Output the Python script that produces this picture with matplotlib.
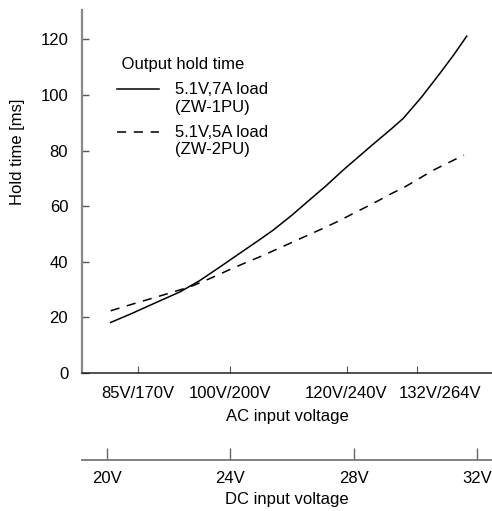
import matplotlib
matplotlib.use('Agg')
import matplotlib.pyplot as plt
import matplotlib.transforms as mtransforms
from matplotlib.legend_handler import HandlerLine2D

plt.rcParams['font.family'] = ['Liberation Sans', 'DejaVu Sans']
plt.rcParams['font.size'] = 12

# x positions are given in DC input voltage (the AC axis maps onto it)
dc_ticks = [20, 24, 28, 32]
dc_labels = ['20V', '24V', '28V', '32V']
ac_ticks = [21.0, 24.0, 27.77, 30.07]
ac_labels = ['85V/170V', '100V/200V', '120V/240V', '132V/264V']

# 5.1V,7A load (ZW-1PU)
x_7a = [20.12, 20.8, 21.5, 22.37, 23.0, 23.67, 24.31, 24.85, 25.39, 26.0, 26.5, 27.1,
        27.66, 28.6, 29.2, 29.61, 30.2, 30.8, 31.25, 31.67]
y_7a = [18.2, 21.4, 24.9, 29.2, 33.2, 38.2, 43.1, 47.2, 51.4, 56.8, 61.6, 67.3,
        73.0, 82.0, 87.6, 91.6, 99.2, 107.8, 114.5, 121.2]

# 5.1V,5A load (ZW-2PU)
x_5a = [20.12, 20.8, 21.5, 22.1, 22.69, 23.3, 24.0, 24.5, 25.0, 25.5, 26.04, 26.5, 27.0,
        27.5, 27.99, 28.4, 28.8, 29.2, 29.67, 30.1, 30.59, 31.1, 31.58]
y_5a = [22.4, 24.7, 27.0, 29.0, 31.0, 33.8, 37.3, 39.7, 42.0, 44.5, 47.2, 49.5, 52.0,
        54.6, 57.4, 59.7, 62.0, 64.4, 67.0, 69.8, 73.0, 75.8, 78.4]


class TopLine(HandlerLine2D):
    # put the sample line level with the first line of a two-line label
    def create_artists(self, legend, orig_handle, xdescent, ydescent, width, height, fontsize, trans):
        artists = super().create_artists(legend, orig_handle, xdescent, ydescent,
                                         width, height, fontsize, trans)
        for a in artists:
            a.set_ydata([y + fontsize * 0.58 for y in a.get_ydata()])
        return artists


fig = plt.figure(figsize=(4.92, 5.11), dpi=100)
ax = fig.add_axes([0.1667, 0.270, 0.8333, 0.7104])

l1, = ax.plot(x_7a, y_7a, color='black', lw=1.1, label='5.1V,7A load\n(ZW-1PU)')
l2, = ax.plot(x_5a, y_5a, color='black', lw=1.1, dashes=(6, 5), label='5.1V,5A load\n(ZW-2PU)')

ax.set_xlim(19.19, 32.49)
ax.set_ylim(0, 130.6)

ax.spines['top'].set_visible(False)
ax.spines['right'].set_visible(False)
ax.spines['left'].set_color('#888888')
ax.spines['left'].set_linewidth(1.6)
ax.spines['bottom'].set_color('#222222')
ax.spines['bottom'].set_linewidth(1.1)

ax.set_yticks([0, 20, 40, 60, 80, 100, 120])
ax.tick_params(axis='y', direction='in', length=5, width=1, color='#555555', pad=10)
ax.set_xticks(ac_ticks)
ax.set_xticklabels(ac_labels)
ax.tick_params(axis='x', direction='in', length=5, width=0.8, color='#555555', pad=9)
ax.set_xlabel('AC input voltage', labelpad=6)
ax.set_ylabel('Hold time [ms]')
ax.yaxis.set_label_coords(-0.139, 0.609)

# the 132V/264V label sits to the right of its tick
lbl = ax.get_xticklabels()[3]
lbl.set_transform(lbl.get_transform() + mtransforms.ScaledTranslation(0.23, 0, fig.dpi_scale_trans))

# DC voltage axis below
sec = ax.secondary_xaxis(-0.2397)
sec.set_xticks(dc_ticks)
sec.set_xticklabels(dc_labels)
sec.tick_params(direction='in', length=9, width=1, color='#666666', pad=8)
sec.spines['bottom'].set_color('#777777')
sec.spines['bottom'].set_linewidth(1.3)
sec.set_xlabel('DC input voltage', labelpad=4)

leg = ax.legend(handles=[l1, l2], title=' Output hold time', loc='upper left',
                bbox_to_anchor=(0.085, 0.871), frameon=False, handlelength=2.5,
                handletextpad=1.0, labelspacing=0.62, borderpad=0, borderaxespad=0,
                alignment='left', fontsize=12, title_fontsize=12,
                handler_map={l1: TopLine(), l2: TopLine()})

fig.savefig('out.png', dpi=100)
